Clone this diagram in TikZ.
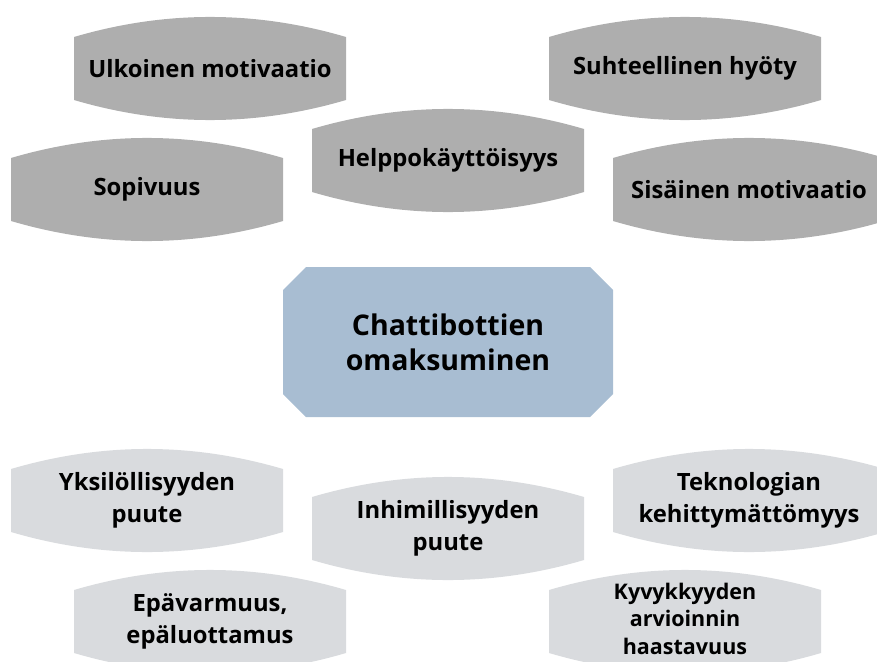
\documentclass[tikz,border=0pt]{standalone}
\usepackage{fontspec}
\setmainfont{Open Sans}
\definecolor{topgray}{RGB}{174,174,174}
\definecolor{botgray}{RGB}{217,219,222}
\definecolor{midblue}{RGB}{168,189,210}
\tikzset{
  lbl/.style={font=\bfseries\fontsize{23.8}{32}\selectfont, align=center, text=black, inner sep=0pt},
  smalllbl/.style={font=\bfseries\fontsize{21.5}{27.5}\selectfont, align=center, text=black, inner sep=0pt, yshift=3pt},
  biglbl/.style={font=\bfseries\fontsize{28.5}{35}\selectfont, align=center, text=black, inner sep=0pt}
}
% #1 left x, #2 top corner y (downwards), #3 colour, #4 style, #5 name, #6 text
\newcommand\wavebox[6]{%
  \fill[#3] (#1,-#2) .. controls (#1+90.7,-#2+26.7) and (#1+181.3,-#2+26.7) .. (#1+272,-#2)
     -- (#1+272,-#2-63) .. controls (#1+181.3,-#2-89.7) and (#1+90.7,-#2-89.7) .. (#1,-#2-63) -- cycle;
  \node[#4] (#5) at (#1+136,-#2-31.5) {#6};
}
\begin{document}
\begin{tikzpicture}[x=1pt,y=1pt]
\useasboundingbox (0,0) rectangle (877,-661);
\clip (0,0) rectangle (877,-661);
% top (gray) factors
\wavebox{74}{37}{topgray}{lbl}{ulk}{Ulkoinen motivaatio}
\wavebox{549}{37}{topgray}{lbl}{suh}{Suhteellinen hyöty}
\wavebox{312}{129}{topgray}{lbl}{hel}{Helppokäyttöisyys}
\wavebox{11}{158}{topgray}{lbl}{sop}{Sopivuus}
\wavebox{613}{158}{topgray}{lbl}{sis}{Sisäinen motivaatio}
% centre
\fill[midblue] (306,-267) -- (590,-267) -- (613,-290) -- (613,-394) -- (590,-417)
   -- (306,-417) -- (283,-394) -- (283,-290) -- cycle;
\node[biglbl] (core) at (448,-342) {Chattibottien\\omaksuminen};
% bottom (light) factors
\wavebox{11}{469}{botgray}{lbl}{yks}{Yksilöllisyyden\\puute}
\wavebox{613}{469}{botgray}{lbl}{tek}{Teknologian\\kehittymättömyys}
\wavebox{312}{497}{botgray}{lbl}{inh}{Inhimillisyyden\\puute}
\wavebox{74}{590}{botgray}{lbl}{epa}{Epävarmuus,\\epäluottamus}
\wavebox{549}{590}{botgray}{smalllbl}{kyv}{Kyvykkyyden\\arvioinnin\\haastavuus}
\end{tikzpicture}
\end{document}
